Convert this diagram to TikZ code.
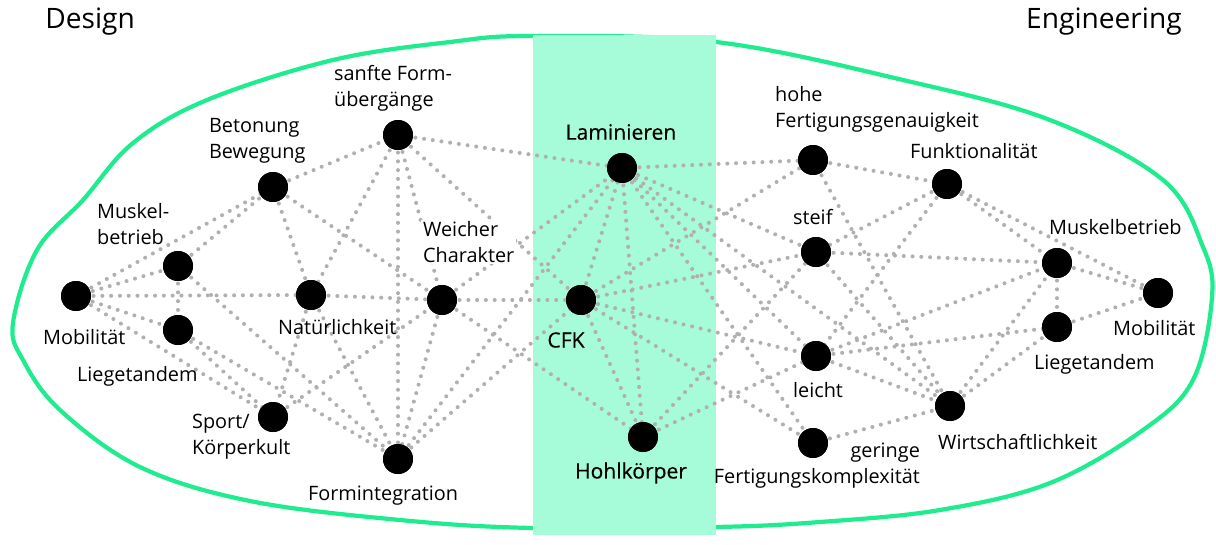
\documentclass[tikz,border=0pt]{standalone}
\usepackage{fontspec}
\setmainfont{Open Sans}
\newfontfamily\bandfont{Open Sans}[FakeBold=0.4]
\definecolor{linkgray}{RGB}{178,175,175}
\definecolor{loopgreen}{RGB}{30,236,142}
\definecolor{bandgreen}{RGB}{166,252,217}
\begin{document}
\begin{tikzpicture}[x=0.02cm,y=-0.02cm,
  dotnode/.style={circle,fill=black,minimum size=0.6cm,inner sep=0pt},
  link/.style={draw=linkgray,line width=2.3pt,line cap=round,dash pattern=on 0pt off 5pt},
  lbl/.style={font=\fontsize{11.3}{14.7}\selectfont,align=left,inner sep=1pt},
  maskedlbl/.style={lbl,fill=white},
  midlbl/.style={font=\bandfont\fontsize{12}{14.7}\selectfont,inner sep=1pt},
  title/.style={font=\fontsize{16}{19}\selectfont,inner sep=0pt}]
\useasboundingbox (0,0) rectangle (1216,544);

% outer loop around both domains
\draw[loopgreen,line width=2.4pt] plot[smooth cycle,tension=0.6] coordinates {
  (13,323) (23,360) (60,410) (140,467) (250,501) (400,520) (533,528)
  (716,527) (820,522) (940,510) (1050,483) (1143,430) (1193,380) (1212,297)
  (1203,247) (1163,180) (1050,120) (903,80) (716,42) (533,36) (450,42)
  (333,60) (207,100) (133,143) (83,200) (37,250)};

% central band
\fill[bandgreen] (533,35) rectangle (716,535);

% nodes
\node[dotnode] (mobL)  at (76,296) {};
\node[dotnode] (muskL) at (178,266) {};
\node[dotnode] (liegL) at (178,330) {};
\node[dotnode] (beto)  at (273,187) {};
\node[dotnode] (natu)  at (311,295) {};
\node[dotnode] (sport) at (273,417) {};
\node[dotnode] (sanft) at (398,135) {};
\node[dotnode] (weich) at (442,300) {};
\node[dotnode] (formi) at (398,459) {};
\node[dotnode] (lami)  at (622,168) {};
\node[dotnode] (cfk)   at (581,300) {};
\node[dotnode] (hohl)  at (643,437) {};
\node[dotnode] (hohe)  at (813,160) {};
\node[dotnode] (funkt) at (947,184) {};
\node[dotnode] (steif) at (816,252) {};
\node[dotnode] (leicht) at (816,356) {};
\node[dotnode] (gering) at (813,443) {};
\node[dotnode] (wirt)  at (950,406) {};
\node[dotnode] (muskR) at (1057,263) {};
\node[dotnode] (liegR) at (1057,327) {};
\node[dotnode] (mobR)  at (1158,293) {};

% dotted connections
\foreach \a/\b in {
  mobL/muskL, mobL/liegL, mobL/beto, mobL/natu, mobL/sport,
  muskL/liegL, muskL/beto, muskL/formi,
  liegL/sport, liegL/formi,
  beto/sanft, beto/natu, beto/weich,
  sanft/natu, sanft/formi, sanft/weich, sanft/cfk, sanft/lami,
  natu/weich, natu/sport, natu/formi,
  sport/weich,
  weich/cfk, weich/hohl, weich/formi, weich/lami,
  formi/lami, formi/cfk,
  cfk/lami, cfk/hohl, lami/hohl,
  lami/hohe, lami/steif, lami/leicht, lami/gering, lami/wirt,
  cfk/hohe, cfk/steif, cfk/leicht, cfk/gering,
  hohl/steif, hohl/leicht,
  hohe/funkt, hohe/wirt,
  funkt/steif, funkt/leicht, funkt/muskR, funkt/mobR,
  steif/muskR, steif/wirt,
  leicht/muskR, leicht/liegR, leicht/wirt,
  gering/wirt,
  wirt/muskR, wirt/liegR,
  muskR/liegR, muskR/mobR, liegR/mobR}
  \draw[link] (\a.center) -- (\b.center);

% titles
\node[title,anchor=west] (tdes) at (45,22) {Design};
\node[title,anchor=east] (teng) at (1182,22) {Engineering};

% labels, design side
\node[lbl,anchor=west] (l1) at (332,88) {sanfte Form-\\übergänge};
\node[lbl,anchor=west] (l2) at (207,141) {Betonung\\Bewegung};
\node[lbl,anchor=west] (l3) at (95,224) {Muskel-\\betrieb};
\node[maskedlbl,anchor=west] (l4) at (421,242) {Weicher\\Charakter};
\node[lbl,anchor=west] (l5) at (41,337) {Mobilität};
\node[lbl,anchor=west] (l6) at (276,327) {Natürlichkeit};
\node[lbl,anchor=west] (l7) at (75,376) {Liegetandem};
\node[lbl,anchor=west] (l8) at (190,437) {Sport/\\Körperkult};
\node[lbl,anchor=west] (l9) at (306,496) {Formintegration};

% labels, central band
\node[midlbl] (m1) at (621,132) {Laminieren};
\node[midlbl] (m2) at (566,340) {CFK};
\node[midlbl] (m3) at (631,473) {Hohlkörper};

% labels, engineering side
\node[lbl,anchor=west] (r1) at (773,109) {hohe\\Fertigungsgenauigkeit};
\node[lbl,anchor=west] (r2) at (908,151) {Funktionalität};
\node[lbl,anchor=west] (r3) at (791,217) {steif};
\node[lbl,anchor=west] (r4) at (1047,227) {Muskelbetrieb};
\node[lbl,anchor=west] (r5) at (1111,328) {Mobilität};
\node[lbl,anchor=west] (r6) at (1032,364) {Liegetandem};
\node[lbl,anchor=west] (r7) at (791,390) {leicht};
\node[lbl,anchor=west] (r8) at (936,442) {Wirtschaftlichkeit};
\node[lbl,anchor=east,align=right] (r9) at (922,466) {geringe\\Fertigungskomplexität};

% black dots drawn last, above links and label boxes
\foreach \n in {mobL,muskL,liegL,beto,natu,sport,sanft,weich,formi,lami,cfk,hohl,
  hohe,funkt,steif,leicht,gering,wirt,muskR,liegR,mobR}
  \fill (\n) circle (15);
\end{tikzpicture}
\end{document}
